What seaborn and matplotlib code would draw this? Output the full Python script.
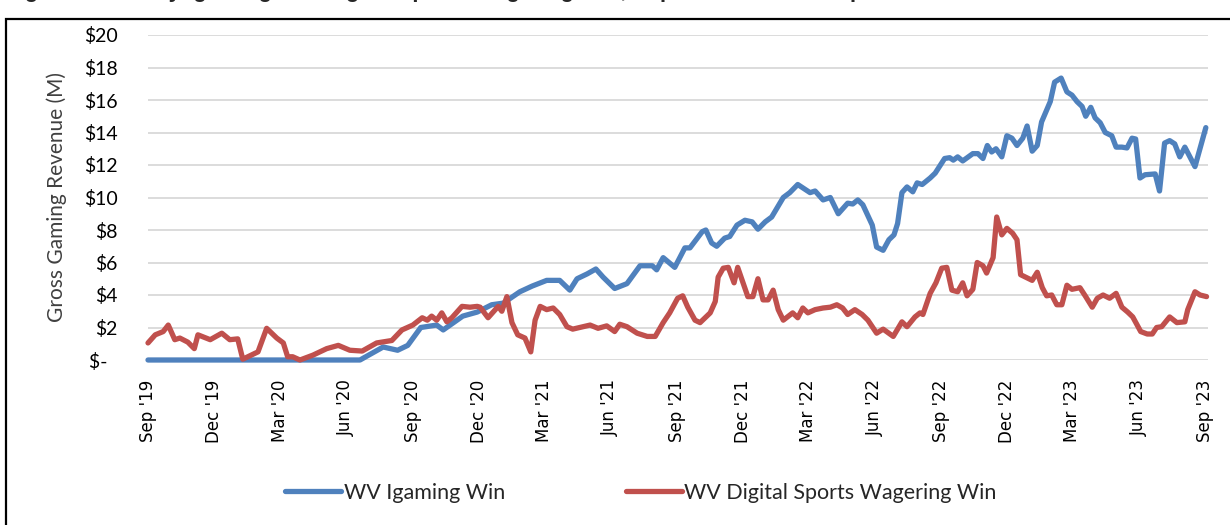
import matplotlib
matplotlib.use('Agg')
import matplotlib.pyplot as plt
import pandas as pd
import seaborn as sns
from matplotlib.patches import Rectangle

# Weekly win, $M
igaming_dates = [
    '2019-09-01', '2020-06-20', '2020-07-22', '2020-08-11', '2020-08-25', '2020-09-12', '2020-10-04', '2020-10-13',
    '2020-11-09', '2020-11-29', '2020-12-19', '2021-01-04', '2021-01-27', '2021-02-13', '2021-03-05', '2021-03-23',
    '2021-04-06', '2021-04-16', '2021-04-30', '2021-05-12', '2021-05-22', '2021-06-07', '2021-06-24', '2021-07-12',
    '2021-07-29', '2021-08-04', '2021-08-13', '2021-08-29', '2021-09-12', '2021-09-19', '2021-10-06', '2021-10-11',
    '2021-10-19', '2021-10-26', '2021-11-06', '2021-11-13', '2021-11-23', '2021-12-04', '2021-12-14', '2021-12-22',
    '2022-01-01', '2022-01-10', '2022-01-26', '2022-02-04', '2022-02-15', '2022-03-04', '2022-03-11', '2022-03-22',
    '2022-04-01', '2022-04-12', '2022-04-25', '2022-05-02', '2022-05-09', '2022-05-16', '2022-05-29', '2022-06-04',
    '2022-06-13', '2022-06-21', '2022-06-28', '2022-07-03', '2022-07-09', '2022-07-16', '2022-07-24', '2022-07-30',
    '2022-08-06', '2022-08-17', '2022-08-24', '2022-09-06', '2022-09-13', '2022-09-18', '2022-09-24', '2022-10-01',
    '2022-10-15', '2022-10-22', '2022-10-29', '2022-11-04', '2022-11-10', '2022-11-16', '2022-11-24', '2022-12-01',
    '2022-12-08', '2022-12-15', '2022-12-23', '2022-12-29', '2023-01-05', '2023-01-12', '2023-01-18', '2023-01-30',
    '2023-02-05', '2023-02-14', '2023-02-22', '2023-03-01', '2023-03-08', '2023-03-15', '2023-03-20', '2023-03-27',
    '2023-04-02', '2023-04-09', '2023-04-16', '2023-04-25', '2023-05-01', '2023-05-09', '2023-05-16', '2023-05-23',
    '2023-05-28', '2023-06-03', '2023-06-10', '2023-06-24', '2023-06-30', '2023-07-07', '2023-07-14', '2023-07-21',
    '2023-07-28', '2023-08-04', '2023-08-11', '2023-08-18', '2023-09-02',
]
igaming_win = [
    0, 0, 0.8, 0.6, 0.9, 2.0, 2.15, 1.85,
    2.7, 2.95, 3.4, 3.5, 4.2, 4.55, 4.9, 4.9,
    4.3, 5.0, 5.3, 5.6, 5.1, 4.4, 4.7, 5.8,
    5.8, 5.55, 6.3, 5.7, 6.9, 6.9, 7.9, 8.0,
    7.2, 7.0, 7.5, 7.6, 8.3, 8.6, 8.5, 8.05,
    8.5, 8.8, 10.0, 10.3, 10.8, 10.3, 10.4, 9.85,
    10.0, 9.0, 9.65, 9.6, 9.85, 9.55, 8.3, 6.95,
    6.75, 7.4, 7.7, 8.4, 10.3, 10.65, 10.35, 10.9,
    10.8, 11.2, 11.5, 12.4, 12.45, 12.3, 12.5, 12.25,
    12.7, 12.7, 12.4, 13.2, 12.8, 13.0, 12.5, 13.8,
    13.65, 13.2, 13.65, 14.4, 12.85, 13.2, 14.65, 15.9,
    17.1, 17.35, 16.5, 16.3, 15.9, 15.6, 15.0, 15.55,
    14.9, 14.6, 14.0, 13.8, 13.1, 13.1, 13.05, 13.65,
    13.6, 11.2, 11.4, 11.45, 10.4, 13.35, 13.5, 13.3,
    12.5, 13.1, 12.5, 11.9, 14.3,
]

sports_dates = [
    '2019-09-01', '2019-09-11', '2019-09-22', '2019-09-29', '2019-10-08', '2019-10-15', '2019-10-26', '2019-11-04',
    '2019-11-09', '2019-11-26', '2019-12-12', '2019-12-23', '2020-01-03', '2020-01-10', '2020-01-31', '2020-02-12',
    '2020-02-26', '2020-03-06', '2020-03-12', '2020-03-19', '2020-03-29', '2020-04-16', '2020-05-05', '2020-05-21',
    '2020-06-06', '2020-06-23', '2020-07-13', '2020-08-03', '2020-08-17', '2020-09-01', '2020-09-14', '2020-09-21',
    '2020-09-27', '2020-10-04', '2020-10-11', '2020-10-18', '2020-10-25', '2020-11-08', '2020-11-19', '2020-11-29',
    '2020-12-03', '2020-12-14', '2020-12-28', '2021-01-02', '2021-01-09', '2021-01-16', '2021-01-24', '2021-02-03',
    '2021-02-11', '2021-02-17', '2021-02-24', '2021-03-05', '2021-03-14', '2021-03-23', '2021-04-02', '2021-04-10',
    '2021-05-04', '2021-05-15', '2021-05-27', '2021-06-07', '2021-06-14', '2021-06-24', '2021-07-08', '2021-07-22',
    '2021-08-02', '2021-08-13', '2021-08-22', '2021-09-02', '2021-09-09', '2021-09-16', '2021-09-26', '2021-10-03',
    '2021-10-17', '2021-10-24', '2021-10-28', '2021-11-04', '2021-11-11', '2021-11-19', '2021-11-24', '2021-12-01',
    '2021-12-08', '2021-12-15', '2021-12-22', '2021-12-29', '2022-01-05', '2022-01-12', '2022-01-19', '2022-01-26',
    '2022-02-08', '2022-02-15', '2022-02-22', '2022-03-01', '2022-03-11', '2022-03-22', '2022-04-01', '2022-04-10',
    '2022-04-18', '2022-04-25', '2022-05-05', '2022-05-15', '2022-05-23', '2022-06-04', '2022-06-13', '2022-06-27',
    '2022-07-09', '2022-07-16', '2022-07-27', '2022-08-03', '2022-08-07', '2022-08-17', '2022-08-25', '2022-09-02',
    '2022-09-09', '2022-09-16', '2022-09-24', '2022-10-01', '2022-10-07', '2022-10-15', '2022-10-21', '2022-10-29',
    '2022-11-03', '2022-11-12', '2022-11-17', '2022-11-24', '2022-12-01', '2022-12-09', '2022-12-15', '2022-12-20',
    '2022-12-29', '2023-01-05', '2023-01-12', '2023-01-19', '2023-01-25', '2023-02-01', '2023-02-08', '2023-02-15',
    '2023-02-22', '2023-03-01', '2023-03-12', '2023-03-20', '2023-03-29', '2023-04-05', '2023-04-13', '2023-04-22',
    '2023-05-01', '2023-05-09', '2023-05-17', '2023-05-24', '2023-06-04', '2023-06-13', '2023-06-20', '2023-06-26',
    '2023-07-03', '2023-07-14', '2023-07-24', '2023-08-04', '2023-08-08', '2023-08-18', '2023-08-25', '2023-09-03',
]
sports_win = [
    1.05, 1.55, 1.75, 2.15, 1.25, 1.35, 1.1, 0.7,
    1.55, 1.25, 1.65, 1.25, 1.3, 0.05, 0.5, 1.95,
    1.35, 1.05, 0.2, 0.2, 0.0, 0.3, 0.7, 0.9,
    0.6, 0.55, 1.05, 1.2, 1.85, 2.15, 2.6, 2.45,
    2.7, 2.45, 2.9, 2.35, 2.6, 3.3, 3.25, 3.3,
    3.25, 2.6, 3.3, 3.0, 3.9, 2.3, 1.55, 1.35,
    0.5, 2.45, 3.3, 3.1, 3.2, 2.8, 2.05, 1.9,
    2.15, 1.95, 2.1, 1.75, 2.2, 2.05, 1.65, 1.45,
    1.45, 2.3, 2.9, 3.8, 3.95, 3.25, 2.45, 2.3,
    2.9, 3.6, 5.1, 5.65, 5.7, 4.75, 5.7, 4.8,
    3.9, 3.9, 5.0, 3.7, 3.7, 4.3, 3.1, 2.45,
    2.9, 2.6, 3.2, 2.9, 3.1, 3.2, 3.25, 3.4,
    3.2, 2.8, 3.1, 2.8, 2.45, 1.65, 1.9, 1.45,
    2.35, 2.05, 2.65, 2.9, 2.8, 4.1, 4.75, 5.65,
    5.7, 4.3, 4.2, 4.75, 3.95, 4.35, 6.0, 5.8,
    5.35, 6.3, 8.8, 7.7, 8.1, 7.8, 7.4, 5.25,
    5.05, 4.9, 5.4, 4.45, 3.95, 4.0, 3.4, 3.4,
    4.6, 4.35, 4.45, 3.9, 3.25, 3.8, 4.0, 3.8,
    4.1, 3.25, 2.95, 2.65, 1.75, 1.6, 1.6, 2.0,
    2.05, 2.65, 2.3, 2.35, 3.1, 4.2, 4.0, 3.9,
]

series_names = ['WV Igaming Win', 'WV Digital Sports Wagering Win']
series_colors = ['#4F81BD', '#C0504D']
tick_dates = ['2019-09-01', '2019-12-01', '2020-03-01', '2020-06-01', '2020-09-01', '2020-12-01',
              '2021-03-01', '2021-06-01', '2021-09-01', '2021-12-01', '2022-03-01', '2022-06-01',
              '2022-09-01', '2022-12-01', '2023-03-01', '2023-06-01', '2023-09-01']
y_ticks = [0, 2, 4, 6, 8, 10, 12, 14, 16, 18, 20]
y_labels = ['$-  ', '$2', '$4', '$6', '$8', '$10', '$12', '$14', '$16', '$18', '$20']
title = 'Figure 2: Weekly Igaming and Digital Sports Wagering Win, September 2019 - September 2023'

df = pd.concat([
    pd.DataFrame({'date': pd.to_datetime(igaming_dates), 'win': igaming_win, 'series': series_names[0]}),
    pd.DataFrame({'date': pd.to_datetime(sports_dates), 'win': sports_win, 'series': series_names[1]}),
])

sns.set_style('white')
plt.rcParams['font.family'] = ['Lato', 'DejaVu Sans']

fig = plt.figure(figsize=(12.3, 5.25), dpi=100)
ax = fig.add_axes([148 / 1230, 1 - 360 / 525, 1060 / 1230, 325 / 525])

sns.lineplot(data=df, x='date', y='win', hue='series', hue_order=series_names,
             palette=series_colors, linewidth=3.8, estimator=None, ax=ax, legend=False)
for line in ax.lines:
    line.set_clip_on(False)
    line.set_solid_joinstyle('round')
    line.set_solid_capstyle('round')
    line.set_zorder(3)

ax.set_xlim(pd.Timestamp('2019-09-01'), pd.Timestamp('2023-09-05'))
ax.set_ylim(0, 20)
ax.set_yticks(y_ticks)
ax.set_yticklabels(y_labels)
ax.set_xticks(pd.to_datetime(tick_dates))
ax.set_xticklabels(pd.to_datetime(tick_dates).strftime("%b '%y"), rotation=90,
                   family='DejaVu Sans', fontsize=12, color='black')
ax.tick_params(axis='y', length=0, pad=22, labelsize=14, labelcolor='black')
ax.tick_params(axis='x', length=0, pad=14)
ax.grid(axis='y', color='#D9D9D9', linewidth=1.3)
ax.grid(axis='x', visible=False)
for s in ax.spines.values():
    s.set_visible(False)
ax.set_xlabel('')
ax.set_ylabel('Gross Gaming Revenue (M)', fontsize=15, color='#404040', labelpad=12)

handles = [plt.Line2D([], [], color=c, linewidth=3.8, solid_capstyle='round') for c in series_colors]
fig.legend(handles, series_names, loc='center', bbox_to_anchor=(641 / 1230, 1 - 493 / 525),
           ncol=2, frameon=False, fontsize=15.5, handlelength=2.6, handletextpad=0.12,
           columnspacing=5.6, labelcolor='#262626')

# outer frame (left and top edges visible) and the cut-off title above it
fig.add_artist(Rectangle((6 / 1230, -0.1), 1.2, 1.1 - 19 / 525, transform=fig.transFigure,
                         fill=False, edgecolor='black', linewidth=1.6))
fig.text(0.004, 1 + 3 / 525, title, fontsize=16, fontweight='bold', family='Liberation Sans',
         va='baseline', ha='left')

fig.savefig('out.png', dpi=100)
